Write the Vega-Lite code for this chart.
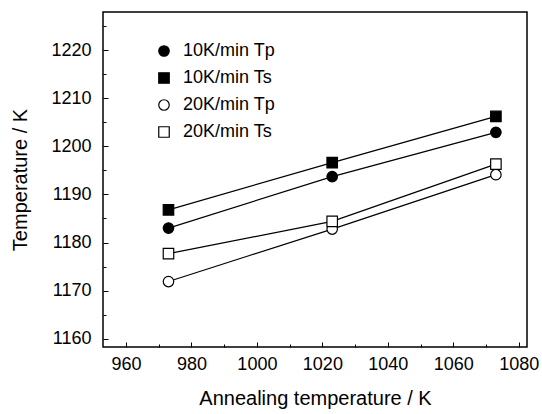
{
  "$schema": "https://vega.github.io/schema/vega-lite/v6.json",
  "width": 424,
  "height": 335,
  "autosize": "none",
  "padding": {"left": 103, "top": 12, "right": 15, "bottom": 67},
  "background": "white",
  "config": {
    "view": {"stroke": "black", "strokeWidth": 1.5},
    "font": "Liberation Sans",
    "axis": {
      "domain": false,
      "grid": false,
      "tickColor": "black",
      "tickWidth": 1,
      "labelColor": "black",
      "titleColor": "black",
      "labelFont": "Liberation Sans",
      "titleFont": "Liberation Sans",
      "labelFontSize": 18,
      "titleFontSize": 20,
      "titleFontWeight": "normal"
    },
    "legend": {
      "labelFont": "Liberation Sans",
      "labelFontSize": 18,
      "labelColor": "black",
      "symbolStrokeWidth": 1.2
    }
  },
  "data": {
    "values": [
      {"anneal": 973, "temp": 1183.0, "series": "10K/min Tp"},
      {"anneal": 1023, "temp": 1193.7, "series": "10K/min Tp"},
      {"anneal": 1073, "temp": 1202.9, "series": "10K/min Tp"},
      {"anneal": 973, "temp": 1186.8, "series": "10K/min Ts"},
      {"anneal": 1023, "temp": 1196.6, "series": "10K/min Ts"},
      {"anneal": 1073, "temp": 1206.2, "series": "10K/min Ts"},
      {"anneal": 973, "temp": 1171.9, "series": "20K/min Tp"},
      {"anneal": 1023, "temp": 1182.8, "series": "20K/min Tp"},
      {"anneal": 1073, "temp": 1194.1, "series": "20K/min Tp"},
      {"anneal": 973, "temp": 1177.7, "series": "20K/min Ts"},
      {"anneal": 1023, "temp": 1184.4, "series": "20K/min Ts"},
      {"anneal": 1073, "temp": 1196.3, "series": "20K/min Ts"}
    ]
  },
  "layer": [
    {
      "mark": {"type": "line", "color": "black", "strokeWidth": 1.2},
      "encoding": {
        "x": {
          "field": "anneal", "type": "quantitative",
          "scale": {"domain": [953, 1082.5], "nice": false, "zero": false},
          "axis": {
            "orient": "bottom",
            "title": "Annealing temperature / K",
            "values": [960, 980, 1000, 1020, 1040, 1060, 1080],
            "format": "d",
            "tickSize": -5,
            "labelPadding": 13,
            "titlePadding": 15
          }
        },
        "y": {
          "field": "temp", "type": "quantitative",
          "scale": {"domain": [1158.3, 1227.9], "nice": false, "zero": false},
          "axis": {
            "orient": "left",
            "title": "Temperature / K",
            "values": [1160, 1170, 1180, 1190, 1200, 1210, 1220],
            "format": "d",
            "tickSize": -5,
            "labelPadding": 17,
            "titlePadding": 20
          }
        },
        "detail": {"field": "series"}
      }
    },
    {
      "mark": {"type": "point", "strokeWidth": 1.2, "opacity": 1, "filled": false},
      "encoding": {
        "x": {"field": "anneal", "type": "quantitative", "axis": null},
        "y": {"field": "temp", "type": "quantitative", "axis": null},
        "shape": {
          "field": "series", "type": "nominal",
          "scale": {"domain": ["10K/min Tp", "10K/min Ts", "20K/min Tp", "20K/min Ts"], "range": ["circle", "square", "circle", "square"]},
          "legend": {
            "title": null,
            "orient": "none",
            "legendX": 52,
            "legendY": 30,
            "rowPadding": 9,
            "labelOffset": 10,
            "symbolSize": 110
          }
        },
        "fill": {
          "field": "series", "type": "nominal",
          "scale": {"domain": ["10K/min Tp", "10K/min Ts", "20K/min Tp", "20K/min Ts"], "range": ["black", "black", "white", "white"]},
          "legend": {
            "title": null,
            "orient": "none",
            "legendX": 52,
            "legendY": 30,
            "rowPadding": 9,
            "labelOffset": 10,
            "symbolSize": 110
          }
        },
        "stroke": {
          "field": "series", "type": "nominal",
          "scale": {"domain": ["10K/min Tp", "10K/min Ts", "20K/min Tp", "20K/min Ts"], "range": ["black", "black", "black", "black"]},
          "legend": {
            "title": null,
            "orient": "none",
            "legendX": 52,
            "legendY": 30,
            "rowPadding": 9,
            "labelOffset": 10,
            "symbolSize": 110
          }
        },
        "size": {"value": 110}
      }
    },
    {
      "mark": {"type": "point", "opacity": 0},
      "encoding": {
        "x": {
          "field": "anneal", "type": "quantitative",
          "axis": {"orient": "bottom", "title": null, "labels": false, "values": [970, 990, 1010, 1030, 1050, 1070], "tickSize": -3}
        },
        "y": {
          "field": "temp", "type": "quantitative",
          "axis": {"orient": "left", "title": null, "labels": false, "values": [1165, 1175, 1185, 1195, 1205, 1215, 1225], "tickSize": -3}
        }
      }
    }
  ],
  "resolve": {"axis": {"x": "independent", "y": "independent"}}
}
